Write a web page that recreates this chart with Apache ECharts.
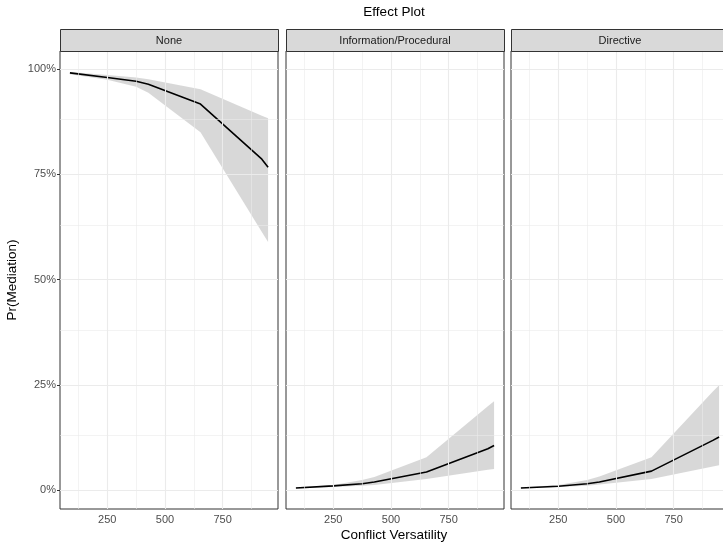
<!DOCTYPE html>
<html><head><meta charset="utf-8">
<script src="https://cdn.jsdelivr.net/npm/echarts@6/dist/echarts.min.js"></script>
<style>html,body{margin:0;padding:0;background:#fff}#c{width:723px;height:544px}</style>
</head><body><div id="c"></div>
<script>
// ---- data ----
const panels = ['None', 'Information/Procedural', 'Directive'];
const xVals = [88, 250, 375, 428, 654, 920, 947];
const fitNone  = [0.991, 0.980, 0.971, 0.964, 0.917, 0.786, 0.767];
const upNone   = [0.993, 0.986, 0.980, 0.976, 0.952, 0.889, 0.883];
const loNone   = [0.988, 0.975, 0.958, 0.944, 0.850, 0.613, 0.589];
const fitInfo  = [0.005, 0.010, 0.015, 0.019, 0.043, 0.098, 0.106];
const upInfo   = [0.006, 0.012, 0.024, 0.031, 0.078, 0.199, 0.211];
const loInfo   = [0.004, 0.007, 0.010, 0.012, 0.026, 0.048, 0.050];
const fitDir   = [0.005, 0.009, 0.015, 0.019, 0.045, 0.118, 0.126];
const upDir    = [0.006, 0.012, 0.024, 0.032, 0.078, 0.234, 0.249];
const loDir    = [0.004, 0.007, 0.010, 0.013, 0.026, 0.056, 0.059];
const xTicks = [250, 500, 750];
const xMinor = [125, 375, 625, 875];
const yTicks = [0, 0.25, 0.5, 0.75, 1];
const yMinor = [0.125, 0.375, 0.625, 0.875];

const fits = [fitNone, fitInfo, fitDir];
const ups = [upNone, upInfo, upDir];
const los = [loNone, loInfo, loDir];

// ---- layout ----
const FONT = 'Liberation Sans, Arial, Helvetica, sans-serif';
const gridLefts = [60, 286, 511];
const gridTop = 51, gridH = 458, gridW = 218;
const stripTop = 29, stripH = 22;

const chart = echarts.init(document.getElementById('c'), null, {renderer: 'canvas'});

const grid = [], xAxis = [], yAxis = [], series = [], graphic = [];
panels.forEach((name, i) => {
  grid.push({left: gridLefts[i], top: gridTop, width: gridW, height: gridH,
    show: true, borderColor: '#333333', borderWidth: 1, backgroundColor: '#ffffff',
    containLabel: false, outerBoundsMode: 'none'});
  xAxis.push({type: 'value', gridIndex: i, min: 45, max: 990,
    axisLine: {show: false}, splitLine: {show: false},
    axisTick: {show: true, length: 3, customValues: xTicks, lineStyle: {color: '#333333', width: 1}},
    axisLabel: {customValues: xTicks, color: '#4D4D4D', fontSize: 11, margin: 5, fontFamily: FONT}});
  yAxis.push({type: 'value', gridIndex: i, min: -0.045, max: 1.043,
    axisLine: {show: false}, splitLine: {show: false},
    axisTick: {show: i === 0, length: 3, customValues: yTicks, lineStyle: {color: '#333333', width: 1}},
    axisLabel: {show: i === 0, customValues: yTicks, color: '#4D4D4D', fontSize: 11, margin: 4,
      fontFamily: FONT, formatter: v => Math.round(v * 100) + '%'},
    name: i === 0 ? 'Pr(Mediation)' : '', nameLocation: 'middle', nameGap: 41,
    nameTextStyle: {fontSize: 13.5, color: '#000', fontFamily: FONT}});

  const major = {color: '#EBEBEB', width: 1.1, type: 'solid'};
  const minor = {color: '#EBEBEB', width: 0.6, type: 'solid'};
  const ml = [];
  xMinor.forEach(v => ml.push({xAxis: v, lineStyle: minor}));
  yMinor.forEach(v => ml.push({yAxis: v, lineStyle: minor}));
  xTicks.forEach(v => ml.push({xAxis: v, lineStyle: major}));
  yTicks.forEach(v => ml.push({yAxis: v, lineStyle: major}));
  series.push({type: 'line', xAxisIndex: i, yAxisIndex: i, z: 1, silent: true,
    data: xVals.map((x, k) => [x, fits[i][k]]), showSymbol: false,
    lineStyle: {opacity: 0}, animation: false,
    markLine: {silent: true, symbol: ['none', 'none'], label: {show: false}, animation: false,
      emphasis: {disabled: true}, data: ml}});

  series.push({type: 'custom', xAxisIndex: i, yAxisIndex: i, z: 2, silent: true, animation: false,
    data: [[xVals[0], los[i][0]]],
    renderItem: (params, api) => {
      const pts = [];
      for (let k = 0; k < xVals.length; k++) pts.push(api.coord([xVals[k], ups[i][k]]));
      for (let k = xVals.length - 1; k >= 0; k--) pts.push(api.coord([xVals[k], los[i][k]]));
      return {type: 'polygon', shape: {points: pts}, style: {fill: 'rgba(127,127,127,0.3)'}};
    }});

  series.push({type: 'line', xAxisIndex: i, yAxisIndex: i, z: 3, silent: true, animation: false,
    data: xVals.map((x, k) => [x, fits[i][k]]), showSymbol: false,
    lineStyle: {color: '#000000', width: 1.6}});

  graphic.push({type: 'rect', left: gridLefts[i], top: stripTop, z: 10,
    shape: {width: gridW, height: stripH},
    style: {fill: '#D9D9D9', stroke: '#333333', lineWidth: 1}});
  graphic.push({type: 'text', x: gridLefts[i] + gridW / 2, y: stripTop + stripH / 2 + 0.5, z: 11,
    style: {text: name, fill: '#1A1A1A', font: '11px ' + FONT, textAlign: 'center', textVerticalAlign: 'middle'}});
});

graphic.push({type: 'text', x: 394, y: 12, z: 11,
  style: {text: 'Effect Plot', fill: '#000000', font: '13.5px ' + FONT, textAlign: 'center', textVerticalAlign: 'middle'}});
graphic.push({type: 'text', x: 394, y: 535, z: 11,
  style: {text: 'Conflict Versatility', fill: '#000000', font: '13.5px ' + FONT, textAlign: 'center', textVerticalAlign: 'middle'}});

chart.setOption({
  animation: false,
  textStyle: {fontFamily: FONT},
  grid, xAxis, yAxis, series, graphic
});
</script>
</body></html>
